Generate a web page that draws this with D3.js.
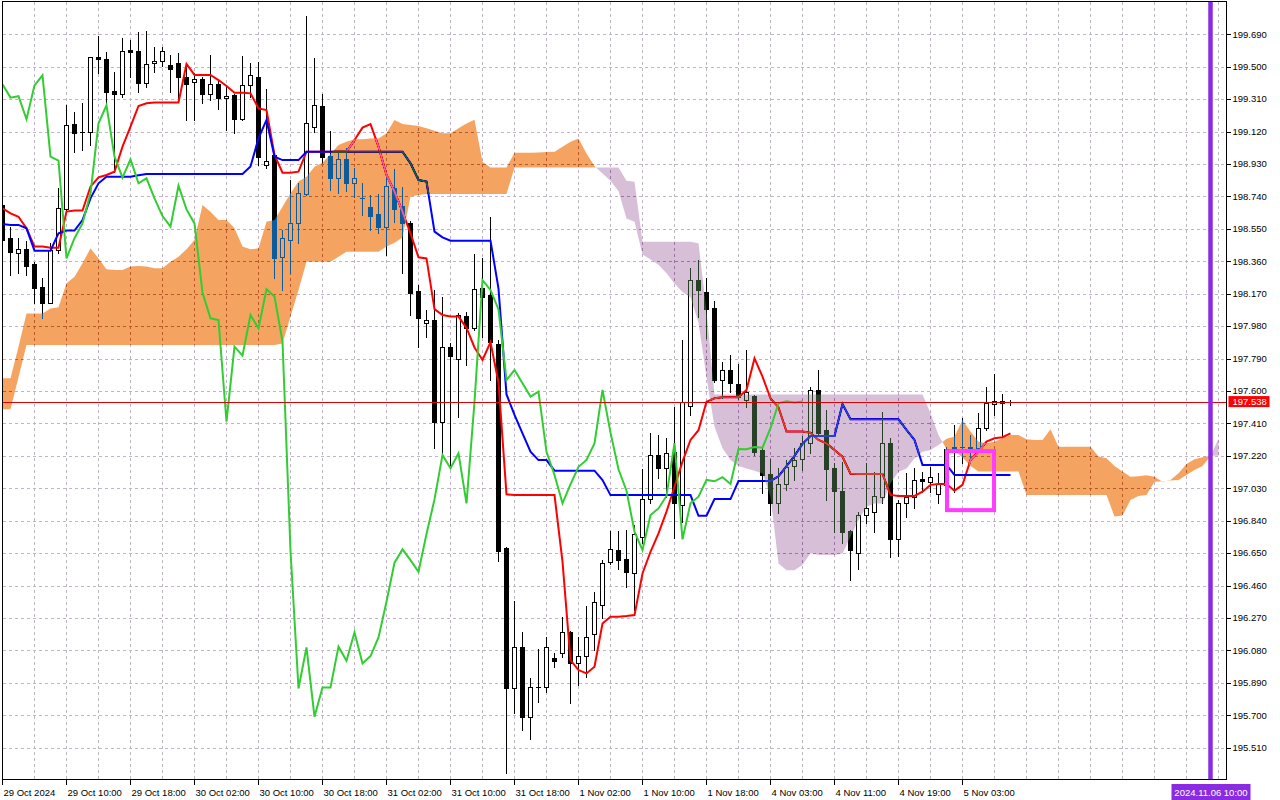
<!DOCTYPE html>
<html>
<head>
<meta charset="utf-8">
<style>
  html, body { margin: 0; padding: 0; background: #fff; }
  svg { display: block; font-family: "Liberation Sans", Arial, sans-serif; }
</style>
</head>
<body>
<div id="chart"></div>
<script src="https://cdn.jsdelivr.net/npm/d3@7"></script>
<script>
// H1 candles, bar 0 = 29 Oct 02:00, last bar (126) = 5 Nov 09:00
const openVals = [
  198.690,198.495,198.407,198.430,198.342,198.212,198.118,198.426,198.665,199.163,
  199.120,199.120,199.555,199.544,199.358,199.340,199.598,199.592,199.403,199.520,
  199.532,199.510,199.520,199.438,199.409,199.426,199.338,199.397,199.317,199.333,
  199.192,199.391,199.438,198.922,198.983,198.383,198.485,198.582,198.752,199.149,
  199.270,198.979,198.850,198.957,198.817,198.730,198.676,198.635,198.563,198.788,
  198.686,198.582,198.186,198.000,198.016,197.420,197.860,197.785,198.039,197.967,
  198.202,198.163,197.875,196.678,195.857,196.098,195.691,195.867,195.867,196.033,
  196.063,196.186,196.004,196.047,196.176,196.346,196.600,196.668,196.613,196.535,
  196.746,196.965,197.225,197.147,197.244,196.932,197.512,198.250,198.182,198.084,
  197.664,197.723,197.641,197.547,197.571,197.254,197.114,196.942,197.053,197.160,
  197.199,197.293,197.606,197.371,197.147,197.016,196.782,196.649,196.873,196.893,
  196.981,197.294,196.731,196.942,196.981,197.085,197.069,196.997,197.050,197.270,
  197.274,197.270,197.264,197.382,197.522,197.540,197.538
];
const highVals = [
  198.720,198.563,198.495,198.481,198.358,198.260,198.465,198.788,199.276,199.237,
  199.286,199.559,199.680,199.588,199.471,199.667,199.657,199.706,199.712,199.618,
  199.618,199.569,199.579,199.510,199.461,199.442,199.569,199.422,199.383,199.340,
  199.563,199.520,199.530,199.368,198.993,198.543,198.836,198.817,199.797,199.549,
  199.338,199.123,199.002,199.022,198.905,198.817,198.748,198.754,198.856,198.899,
  198.793,198.598,198.221,198.075,198.192,198.153,197.879,198.055,198.065,198.403,
  198.377,198.621,197.899,196.688,196.371,196.189,195.916,196.086,196.156,196.066,
  196.273,196.195,196.160,196.340,196.424,196.609,196.781,196.781,196.785,196.814,
  197.141,197.356,197.342,197.323,197.508,197.899,198.319,198.367,198.260,198.129,
  197.772,197.811,197.758,197.840,197.576,197.264,197.199,197.147,197.196,197.264,
  197.336,197.621,197.723,197.489,197.176,197.186,196.785,196.893,197.176,197.128,
  197.479,197.323,196.962,197.118,197.147,197.124,197.157,197.118,197.270,197.401,
  197.440,197.343,197.469,197.626,197.700,197.583,197.548
];
const lowVals = [
  198.470,198.280,198.290,198.280,198.114,198.026,198.114,198.407,198.661,199.002,
  199.012,199.042,199.462,199.276,198.885,199.321,199.442,199.354,199.383,199.471,
  199.504,199.354,199.315,199.188,199.188,199.286,199.305,199.251,199.129,199.114,
  199.188,199.325,198.924,198.905,198.260,198.192,198.289,198.465,198.748,199.120,
  198.934,198.778,198.758,198.774,198.739,198.631,198.543,198.524,198.397,198.592,
  198.293,198.045,197.860,197.918,197.264,197.225,197.146,197.449,197.752,197.957,
  197.918,197.664,196.605,195.359,195.711,195.613,195.559,195.779,195.838,195.980,
  196.043,195.773,195.877,195.926,196.082,196.268,196.586,196.555,196.453,196.316,
  196.707,196.942,197.088,196.981,196.737,196.834,197.459,198.035,197.908,197.655,
  197.557,197.596,197.551,197.504,197.225,197.000,196.873,196.883,197.020,197.078,
  197.137,197.239,197.342,196.961,196.776,196.711,196.492,196.555,196.825,196.776,
  196.942,196.626,196.634,196.860,196.913,197.010,197.010,196.946,197.020,197.010,
  197.177,197.186,197.255,197.372,197.460,197.329,197.518
];
const closeVals = [
  198.485,198.413,198.430,198.335,198.206,198.118,198.426,198.670,199.157,199.114,
  199.118,199.555,199.544,199.354,199.340,199.592,199.588,199.403,199.516,199.532,
  199.592,199.485,199.438,199.397,199.426,199.338,199.397,199.319,199.327,199.192,
  199.391,199.450,198.973,198.950,198.377,198.495,198.582,198.758,199.168,199.274,
  198.973,198.850,198.957,198.817,198.846,198.729,198.625,198.563,198.803,198.664,
  198.582,198.176,198.026,198.016,197.420,197.860,197.807,198.045,197.967,198.196,
  198.153,197.889,196.664,195.857,196.098,195.691,195.863,195.863,196.102,196.020,
  196.186,196.004,196.047,196.156,196.365,196.594,196.672,196.609,196.541,196.762,
  196.965,197.225,197.147,197.235,196.942,197.537,198.250,198.192,198.078,197.664,
  197.723,197.645,197.567,197.596,197.244,197.108,196.942,197.053,197.156,197.196,
  197.293,197.606,197.356,197.141,197.016,196.776,196.668,196.873,196.912,196.985,
  197.294,196.731,196.942,196.981,197.079,197.071,197.095,197.055,197.260,197.259,
  197.272,197.268,197.382,197.528,197.540,197.532,197.538
];

// Ichimoku lines
const tenkanVals = [
  198.670,198.641,198.621,198.553,198.446,198.446,198.440,198.440,198.651,198.657,
  198.657,198.797,198.852,198.866,198.885,199.032,199.149,199.270,199.286,199.290,
  199.290,199.290,199.290,199.516,199.452,199.452,199.452,199.422,199.387,199.348,
  199.348,199.344,199.256,199.246,198.983,198.879,198.879,198.885,199.002,199.002,
  199.002,199.002,199.002,199.002,199.071,199.143,199.164,199.032,198.866,198.768,
  198.651,198.524,198.383,198.377,198.080,198.045,198.036,198.036,197.970,197.855,
  197.782,197.885,197.650,196.995,196.990,196.990,196.990,196.990,196.990,196.990,
  196.600,196.023,195.965,195.945,195.984,196.238,196.277,196.277,196.281,196.287,
  196.531,196.658,196.766,196.893,197.039,197.186,197.313,197.370,197.537,197.557,
  197.563,197.563,197.563,197.606,197.791,197.684,197.557,197.504,197.362,197.362,
  197.362,197.356,197.313,197.293,197.254,197.215,197.115,197.114,197.114,197.114,
  197.114,196.991,196.985,196.985,196.985,197.010,197.050,197.055,197.055,197.016,
  197.050,197.196,197.245,197.304,197.323,197.329,197.352
];
const kijunVals = [
  198.579,198.573,198.573,198.553,198.422,198.422,198.422,198.524,198.540,198.540,
  198.602,198.729,198.817,198.856,198.856,198.856,198.856,198.864,198.872,198.872,
  198.872,198.872,198.872,198.872,198.872,198.872,198.872,198.872,198.872,198.872,
  198.872,198.915,199.080,199.188,198.973,198.953,198.953,198.953,199.002,199.002,
  199.002,199.002,199.002,199.002,199.002,199.002,199.002,199.002,199.002,199.002,
  199.002,198.934,198.836,198.827,198.534,198.500,198.481,198.481,198.481,198.481,
  198.481,198.481,198.200,197.580,197.460,197.352,197.244,197.195,197.195,197.133,
  197.133,197.133,197.133,197.133,197.133,197.078,196.990,196.990,196.990,196.990,
  196.990,196.990,196.990,196.990,196.990,196.990,196.990,196.869,196.869,196.967,
  196.967,196.967,197.073,197.073,197.073,197.073,197.073,197.100,197.160,197.220,
  197.290,197.336,197.336,197.336,197.336,197.524,197.434,197.434,197.434,197.434,
  197.434,197.434,197.434,197.372,197.313,197.167,197.167,197.167,197.167,197.108,
  197.108,197.108,197.108,197.108,197.108,197.108,197.108
];
// cloud spans run 26 bars past the last candle (153 values)
const spanAVals = [
  197.674,197.674,197.860,198.054,198.054,198.054,198.084,198.090,198.231,198.270,
  198.348,198.436,198.377,198.313,198.309,198.309,198.329,198.333,198.329,198.319,
  198.319,198.358,198.387,198.430,198.485,198.690,198.651,198.602,198.602,198.553,
  198.446,198.430,198.436,198.592,198.602,198.680,198.758,198.827,198.856,198.914,
  198.938,198.989,199.041,199.061,199.075,199.075,199.080,199.080,199.110,199.188,
  199.164,199.159,199.152,199.139,199.125,199.110,199.110,199.139,199.168,199.190,
  198.943,198.910,198.910,198.910,198.996,198.996,198.996,198.998,199.000,199.002,
  199.031,199.060,199.080,198.992,198.918,198.875,198.832,198.770,198.611,198.592,
  198.400,198.370,198.340,198.290,198.230,198.180,198.150,198.000,197.680,197.390,
  197.264,197.195,197.160,197.146,197.133,197.117,196.980,196.590,196.550,196.550,
  196.580,196.650,196.639,196.639,196.639,196.648,196.746,196.844,196.922,196.941,
  196.941,197.059,197.127,197.146,197.205,197.244,197.254,197.283,197.320,197.333,
  197.430,197.362,197.303,197.294,197.303,197.323,197.342,197.342,197.317,197.313,
  197.313,197.376,197.274,197.274,197.274,197.274,197.274,197.216,197.206,197.161,
  197.128,197.098,197.100,197.106,197.098,197.069,197.079,197.118,197.173,197.200,
  197.212,197.220,197.220
];
const spanBVals = [
  197.493,197.493,197.680,197.870,197.870,197.870,197.870,197.870,197.870,197.870,
  197.870,197.870,197.870,197.870,197.870,197.870,197.870,197.870,197.870,197.870,
  197.870,197.870,197.870,197.870,197.870,197.870,197.870,197.870,197.870,197.870,
  197.870,197.870,197.870,197.870,197.870,197.879,198.036,198.192,198.358,198.358,
  198.358,198.358,198.387,198.416,198.416,198.416,198.416,198.416,198.446,198.469,
  198.500,198.739,198.748,198.754,198.754,198.754,198.754,198.754,198.754,198.754,
  198.754,198.754,198.754,198.754,198.910,198.910,198.910,198.910,198.910,198.910,
  198.910,198.910,198.910,198.910,198.910,198.910,198.910,198.910,198.832,198.826,
  198.475,198.475,198.475,198.475,198.475,198.475,198.475,198.465,198.070,197.580,
  197.580,197.580,197.580,197.580,197.580,197.580,197.580,197.580,197.580,197.580,
  197.580,197.580,197.580,197.580,197.580,197.580,197.580,197.580,197.580,197.580,
  197.580,197.580,197.580,197.580,197.580,197.580,197.469,197.342,197.260,197.250,
  197.210,197.160,197.128,197.128,197.128,197.128,197.128,197.128,196.991,196.991,
  196.991,196.991,196.991,196.991,196.991,196.991,196.991,196.991,196.991,196.864,
  196.870,196.962,196.985,196.991,197.069,197.072,197.075,197.079,197.108,197.137,
  197.160,197.218,197.320
];
const chikouShift = 26;

const priceTicks = [
  199.690,199.500,199.310,199.120,198.930,198.740,198.550,198.360,198.170,197.980,
  197.790,197.600,197.410,197.220,197.030,196.840,196.650,196.460,196.270,196.080,
  195.890,195.700,195.510
];
const timeLabels = [
  '29 Oct 2024','29 Oct 10:00','29 Oct 18:00','30 Oct 02:00','30 Oct 10:00',
  '30 Oct 18:00','31 Oct 02:00','31 Oct 10:00','31 Oct 18:00','1 Nov 02:00',
  '1 Nov 10:00','1 Nov 18:00','4 Nov 03:00','4 Nov 11:00','4 Nov 19:00','5 Nov 03:00'
];
const labelStep = 8;
const markerBar = 151;               // vertical line
const markerLabel = '2024.11.06 10:00';
const boxBars = [118.06, 123.94];    // highlighted rectangle
const boxPrices = [197.248, 196.902];

// Layout
const width = 1280, height = 800;
const frame = { left: 2.5, top: 1.5, right: 1226.5, bottom: 779.5 };
const fontSize = 9.5;

const x = d3.scaleLinear().domain([0, 152]).range([2.5, 1218.5]);
const y = d3.scaleLinear().domain([195.51, 199.69]).range([747.7, 34.3]);
const fmt = d3.format('.3f');

const svg = d3.select('#chart').append('svg')
  .attr('width', width)
  .attr('height', height);

svg.append('rect').attr('width', width).attr('height', height).attr('fill', '#fff');

svg.append('defs').append('clipPath').attr('id', 'plotClip')
  .append('rect')
  .attr('x', frame.left).attr('y', frame.top)
  .attr('width', frame.right - frame.left).attr('height', frame.bottom - frame.top);

const plot = svg.append('g').attr('clip-path', 'url(#plotClip)');
// backdrop inside the group so the cloud blend has something to mix with
plot.append('rect')
  .attr('x', 0).attr('y', 0).attr('width', width).attr('height', height)
  .attr('fill', '#fff');

// grid
const gridColor = '#c2b4c8';
plot.append('g').selectAll('line')
  .data(priceTicks)
  .enter().append('line')
  .attr('x1', frame.left).attr('x2', frame.right)
  .attr('y1', d => Math.round(y(d)) + 0.5)
  .attr('y2', d => Math.round(y(d)) + 0.5)
  .attr('stroke', gridColor)
  .attr('stroke-dasharray', '3,3')
  .attr('shape-rendering', 'crispEdges');

plot.append('g').selectAll('line')
  .data(d3.range(0, 153, 4))
  .enter().append('line')
  .attr('x1', d => x(d)).attr('x2', d => x(d))
  .attr('y1', frame.top).attr('y2', frame.bottom)
  .attr('stroke', gridColor)
  .attr('stroke-dasharray', '3,3')
  .attr('shape-rendering', 'crispEdges');

// candles
const candles = openVals.map((o, i) => ({
  i, o, h: highVals[i], l: lowVals[i], c: closeVals[i]
}));

const cg = plot.append('g').attr('shape-rendering', 'crispEdges');

cg.selectAll('.wick')
  .data(candles)
  .enter().append('line')
  .attr('class', 'wick')
  .attr('x1', d => x(d.i)).attr('x2', d => x(d.i))
  .attr('y1', d => Math.round(y(d.h)))
  .attr('y2', d => Math.round(y(d.l)) + 1)
  .attr('stroke', '#000');

cg.selectAll('.body')
  .data(candles)
  .enter().append('rect')
  .attr('class', 'body')
  .each(function (d) {
    const r = d3.select(this);
    const yo = Math.round(y(d.o)), yc = Math.round(y(d.c));
    if (d.c > d.o) {
      r.attr('x', x(d.i) - 2).attr('width', 4)
        .attr('y', yc + 0.5).attr('height', Math.max(1, yo - yc))
        .attr('fill', '#fff').attr('stroke', '#000');
    } else {
      r.attr('x', x(d.i) - 2.5).attr('width', 5)
        .attr('y', yo).attr('height', Math.max(1, yc - yo + 1))
        .attr('fill', '#000');
    }
  });

// tenkan / kijun
const line = d3.line().x((d, i) => x(i)).y(d => y(d));

plot.append('path').datum(tenkanVals)
  .attr('d', line).attr('fill', 'none')
  .attr('stroke', '#ff0000').attr('stroke-width', 2);

plot.append('path').datum(kijunVals)
  .attr('d', line).attr('fill', 'none')
  .attr('stroke', '#0000ff').attr('stroke-width', 2);

// cloud: split into pieces where span A and span B cross
function cloudPieces(a, b) {
  const pieces = [];
  let cur = null;
  for (let i = 0; i < a.length; i++) {
    const up = a[i] >= b[i];
    if (!cur) cur = { up, pts: [] };
    cur.pts.push({ i, a: a[i], b: b[i] });
    if (i < a.length - 1) {
      const upNext = a[i + 1] >= b[i + 1];
      if (upNext !== up) {
        const d0 = a[i] - b[i], d1 = a[i + 1] - b[i + 1];
        const t = d0 / (d0 - d1);
        const v = a[i] + t * (a[i + 1] - a[i]);
        const cross = { i: i + t, a: v, b: v };
        cur.pts.push(cross);
        pieces.push(cur);
        cur = { up: upNext, pts: [cross] };
      }
    }
  }
  pieces.push(cur);
  return pieces;
}

const area = d3.area()
  .x(d => x(d.i))
  .y0(d => y(d.b))
  .y1(d => y(d.a));

// drawn in "difference" mode: white backdrop gives sandy brown / thistle,
// candles and lines underneath get the inverted look
plot.append('g').selectAll('path')
  .data(cloudPieces(spanAVals, spanBVals))
  .enter().append('path')
  .attr('d', d => area(d.pts))
  .attr('fill', d => d.up ? '#0b5b9f' : '#274027')
  .style('mix-blend-mode', 'difference');

// chikou = close plotted 26 bars back
const chikou = closeVals.slice(chikouShift).map((v, k) => ({ i: k, v }));
plot.append('path').datum(chikou)
  .attr('d', d3.line().x(d => x(d.i)).y(d => y(d.v)))
  .attr('fill', 'none')
  .attr('stroke', '#32cd32').attr('stroke-width', 2);

// bid line
const lastPrice = closeVals[closeVals.length - 1];
plot.append('line')
  .attr('x1', frame.left).attr('x2', frame.right)
  .attr('y1', Math.round(y(lastPrice)) + 0.5).attr('y2', Math.round(y(lastPrice)) + 0.5)
  .attr('stroke', '#e00000').attr('stroke-width', 1)
  .attr('shape-rendering', 'crispEdges');

// marker line
plot.append('line')
  .attr('x1', x(markerBar)).attr('x2', x(markerBar))
  .attr('y1', frame.top).attr('y2', frame.bottom)
  .attr('stroke', '#8a2be2').attr('stroke-width', 4.5);

// highlighted box
plot.append('rect')
  .attr('x', x(boxBars[0])).attr('y', y(boxPrices[0]))
  .attr('width', x(boxBars[1]) - x(boxBars[0]))
  .attr('height', y(boxPrices[1]) - y(boxPrices[0]))
  .attr('fill', 'none')
  .attr('stroke', '#ff3cff').attr('stroke-width', 4);

// frame
svg.append('rect')
  .attr('x', frame.left).attr('y', frame.top)
  .attr('width', frame.right - frame.left).attr('height', frame.bottom - frame.top)
  .attr('fill', 'none').attr('stroke', '#000')
  .attr('shape-rendering', 'crispEdges');

// price axis
const pAxis = svg.append('g');
pAxis.selectAll('line')
  .data(priceTicks)
  .enter().append('line')
  .attr('x1', frame.right).attr('x2', frame.right + 4)
  .attr('y1', d => Math.round(y(d)) + 0.5).attr('y2', d => Math.round(y(d)) + 0.5)
  .attr('stroke', '#000')
  .attr('shape-rendering', 'crispEdges');
pAxis.selectAll('text')
  .data(priceTicks)
  .enter().append('text')
  .attr('x', frame.right + 6)
  .attr('y', d => y(d))
  .attr('dy', '0.35em')
  .attr('font-size', fontSize)
  .attr('fill', '#000')
  .text(d => fmt(d));

// current price tag
pAxis.append('rect')
  .attr('x', frame.right + 2).attr('y', y(lastPrice) - 5.5)
  .attr('width', 41).attr('height', 11)
  .attr('fill', '#ff0000');
pAxis.append('text')
  .attr('x', frame.right + 6).attr('y', y(lastPrice))
  .attr('dy', '0.35em')
  .attr('font-size', fontSize)
  .attr('fill', '#fff')
  .text(fmt(lastPrice));

// time axis
const tAxis = svg.append('g');
tAxis.selectAll('line')
  .data(timeLabels)
  .enter().append('line')
  .attr('x1', (d, k) => x(k * labelStep)).attr('x2', (d, k) => x(k * labelStep))
  .attr('y1', frame.bottom).attr('y2', frame.bottom + 5)
  .attr('stroke', '#000')
  .attr('shape-rendering', 'crispEdges');
tAxis.selectAll('text')
  .data(timeLabels)
  .enter().append('text')
  .attr('x', (d, k) => x(k * labelStep) + 1)
  .attr('y', 796)
  .attr('font-size', fontSize)
  .attr('fill', '#000')
  .text(d => d);

// marker tag on time axis
tAxis.append('rect')
  .attr('x', x(markerBar) - 39).attr('y', 784)
  .attr('width', 79).attr('height', 16)
  .attr('fill', '#8a2be2');
tAxis.append('text')
  .attr('x', x(markerBar) + 0.5).attr('y', 796)
  .attr('text-anchor', 'middle')
  .attr('font-size', fontSize)
  .attr('fill', '#fff')
  .text(markerLabel);
</script>
</body>
</html>
